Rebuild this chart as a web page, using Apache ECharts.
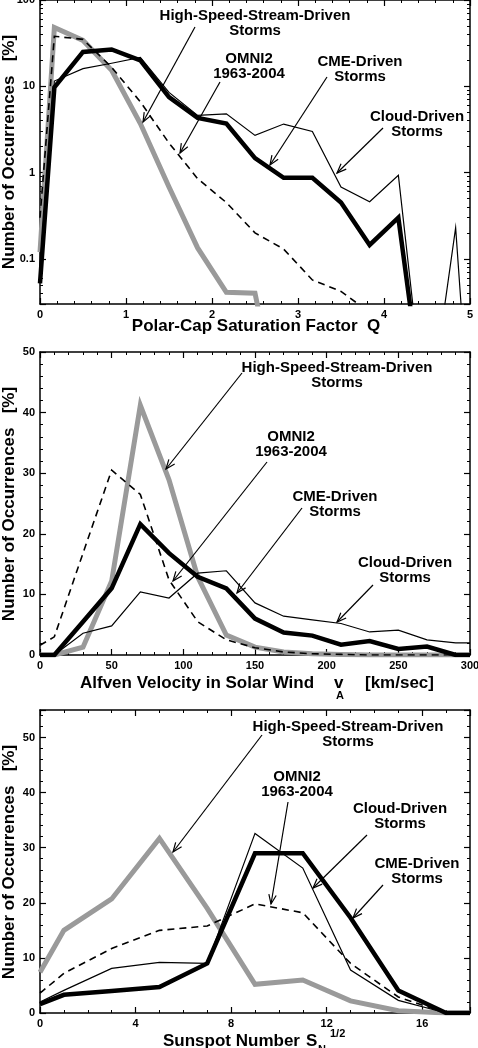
<!DOCTYPE html>
<html>
<head>
<meta charset="utf-8">
<script src="https://cdn.jsdelivr.net/npm/echarts@6/dist/echarts.min.js"></script>
<style>
  html, body { margin: 0; padding: 0; background: #fff; }
  #chart { width: 478px; height: 1048px; }
</style>
</head>
<body>
<div id="chart"></div>
<script>
// ---- panel 1 : polar-cap saturation factor Q (log scale) ----
// 0.001 = off the bottom of the log axis (zero occurrences)
const qBins  = [0, 0.167, 0.5, 0.833, 1.167, 1.5, 1.833, 2.167, 2.5, 2.833, 3.167, 3.5, 3.833, 4.167, 4.5, 4.833, 5];
const qHss   = [0.12, 48, 34, 15.3, 3.7, 0.68, 0.134, 0.041, 0.04, 0.001, null, null, null, null, null, null, null];
const qOmni  = [0.3, 38, 35, 16.6, 6.6, 2.2, 0.85, 0.45, 0.2, 0.13, 0.057, 0.042, 0.024, null, null, null, null];
const qCloud = [0.08, 11.5, 16, 18.5, 21.6, 8.5, 4.6, 4.8, 2.7, 3.65, 3.0, 0.68, 0.46, 0.93, 0.001, 0.23, 0.001];
const qCme   = [0.052, 9.7, 25, 26.7, 20, 7.5, 4.3, 3.7, 1.47, 0.87, 0.87, 0.45, 0.145, 0.3, 0.001, 0.001, 0.001];

// ---- panel 2 : Alfven velocity [km/sec] ----
const vBins  = [0, 10, 30, 50, 70, 90, 110, 130, 150, 170, 190, 210, 230, 250, 270, 290, 300];
const vHss   = [0, 0, 1.3, 12.2, 41.2, 28.9, 12.9, 3.3, 1.3, 0.5, 0.2, 0.1, 0, 0, 0, 0, 0];
const vOmni  = [1.6, 3.0, 16.8, 30.5, 26.5, 12.4, 5.5, 2.5, 1.2, 0.5, 0.2, 0.1, 0, 0, 0, 0, 0];
const vCloud = [0, 0, 3.6, 4.8, 10.4, 9.4, 13.5, 13.9, 8.6, 6.4, 5.8, 5.2, 3.8, 4.1, 2.5, 2.0, 2.0];
const vCme   = [0, 0, 5.5, 11, 21.6, 16.8, 12.9, 11, 6, 3.7, 3.2, 1.7, 2.3, 1.0, 1.4, 0, 0];

// ---- panel 3 : sunspot number sqrt ----
const sBins  = [0, 1, 3, 5, 7, 9, 11, 13, 15, 17, 18];
const sHss   = [7.4, 15, 20.7, 31.7, 19, 5.2, 6.0, 2.2, 0.4, 0, 0];
const sOmni  = [3.6, 7.2, 11.7, 15, 15.8, 19.8, 18.2, 9, 2.9, 0, 0];
const sCloud = [2.0, 4.1, 8.1, 9.2, 9.0, 32.6, 26.3, 7.8, 2.3, 0, 0];
const sCme   = [1.6, 3.3, 4.0, 4.7, 9.0, 29, 29, 17.3, 4.1, 0, 0];

const FONT = "Liberation Sans";
const yTitle = "Number of Occurrences   [%]";

const chart = echarts.init(document.getElementById("chart"), null, { renderer: "canvas" });

const pairs = (xs, ys) => xs.map((x, i) => [x, ys[i]]);

// line looks
const looks = {
  hss:   { color: "#9a9a9a", width: 5, type: "solid", z: 2 },
  omni:  { color: "#000", width: 1.6, type: [7, 5], z: 3 },
  cloud: { color: "#000", width: 1.2, type: "solid", z: 4 },
  cme:   { color: "#000", width: 4.5, type: "solid", z: 5 },
};

// fixed plot boxes (no auto shrinking for labels)
const grids = [
  { left: 40, right: 8, top: 0, height: 304, containLabel: false, outerBoundsMode: "none" },
  { left: 40, right: 8, top: 352, height: 303, containLabel: false, outerBoundsMode: "none" },
  { left: 40, right: 8, top: 710, height: 303, containLabel: false, outerBoundsMode: "none" },
];

function axis(extra, labels) {
  return Object.assign({
    axisLine: { show: true, onZero: false, lineStyle: { color: "#000", width: 1.5 } },
    axisTick: { show: true, inside: true, length: 6, lineStyle: { color: "#000", width: 1.2 } },
    minorTick: { show: true, length: 3, lineStyle: { color: "#000", width: 1 } },
    splitLine: { show: false },
    minorSplitLine: { show: false },
    axisLabel: {
      show: labels,
      color: "#000",
      fontFamily: FONT,
      fontWeight: "bold",
      fontSize: 11,
      margin: 5,
    },
  }, extra);
}

const xSpecs = [
  { type: "value", min: 0, max: 5, interval: 1, minorTick: { splitNumber: 5 } },
  { type: "value", min: 0, max: 300, interval: 50, minorTick: { splitNumber: 5 } },
  { type: "value", min: 0, max: 18, interval: 4, minorTick: { splitNumber: 4 } },
];
const ySpecs = [
  { type: "log", logBase: 10, min: 0.03, max: 100, minorTick: { splitNumber: 9 } },
  { type: "value", min: 0, max: 50, interval: 10, minorTick: { splitNumber: 5 } },
  { type: "value", min: 0, max: 55, interval: 10, minorTick: { splitNumber: 5 } },
];

const xAxis = [];
const yAxis = [];
xSpecs.forEach((s, g) => {
  const mt = { show: true, length: 3, splitNumber: s.minorTick.splitNumber, lineStyle: { color: "#000", width: 1 } };
  const bottom = axis(Object.assign({}, s, { gridIndex: g, position: "bottom", minorTick: mt }), true);
  if (g === 2) bottom.axisLabel.showMaxLabel = false;
  xAxis.push(bottom);
  xAxis.push(axis(Object.assign({}, s, { gridIndex: g, position: "top", minorTick: mt }), false));
});
ySpecs.forEach((s, g) => {
  const mt = { show: true, length: 3, splitNumber: s.minorTick.splitNumber, lineStyle: { color: "#000", width: 1 } };
  const left = axis(Object.assign({}, s, { gridIndex: g, position: "left", minorTick: mt }), true);
  if (g === 0) left.axisLabel.showMinLabel = false;
  if (g === 2) left.axisLabel.showMaxLabel = false;
  yAxis.push(left);
  yAxis.push(axis(Object.assign({}, s, { gridIndex: g, position: "right", minorTick: mt }), false));
});

const panels = [
  [qBins, { hss: qHss, omni: qOmni, cloud: qCloud, cme: qCme }],
  [vBins, { hss: vHss, omni: vOmni, cloud: vCloud, cme: vCme }],
  [sBins, { hss: sHss, omni: sOmni, cloud: sCloud, cme: sCme }],
];
const series = [];
panels.forEach(([xs, set], g) => {
  Object.keys(looks).forEach((k) => {
    const lk = looks[k];
    series.push({
      type: "line",
      xAxisIndex: g * 2,
      yAxisIndex: g * 2,
      data: pairs(xs, set[k]),
      symbol: "none",
      connectNulls: false,
      clip: true,
      z: lk.z,
      lineStyle: { color: lk.color, width: lk.width, type: lk.type, join: "miter" },
      animation: false,
    });
  });
});

// annotations (labels + arrows)
const notes = [
  { t: ["High-Speed-Stream-Driven", "Storms"], x: 255, y: 16, from: [195, 27], to: [143, 122] },
  { t: ["OMNI2", "1963-2004"], x: 249, y: 59, from: [220, 82], to: [180, 153] },
  { t: ["CME-Driven", "Storms"], x: 360, y: 62, from: [327, 77], to: [270, 165] },
  { t: ["Cloud-Driven", "Storms"], x: 417, y: 117, from: [383, 128], to: [337, 173] },

  { t: ["High-Speed-Stream-Driven", "Storms"], x: 337, y: 368, from: [242, 373], to: [166, 469] },
  { t: ["OMNI2", "1963-2004"], x: 291, y: 437, from: [267, 462], to: [173, 581] },
  { t: ["CME-Driven", "Storms"], x: 335, y: 497, from: [302, 508], to: [237, 593] },
  { t: ["Cloud-Driven", "Storms"], x: 405, y: 563, from: [373, 585], to: [337, 622] },

  { t: ["High-Speed-Stream-Driven", "Storms"], x: 348, y: 727, from: [262, 735], to: [173, 852] },
  { t: ["OMNI2", "1963-2004"], x: 297, y: 777, from: [288, 802], to: [271, 904] },
  { t: ["Cloud-Driven", "Storms"], x: 400, y: 809, from: [367, 835], to: [313, 888] },
  { t: ["CME-Driven", "Storms"], x: 417, y: 864, from: [383, 885], to: [353, 918] },
];

function txt(text, x, y, size, align, rot) {
  return {
    type: "text",
    z: 100,
    x: x, y: y,
    rotation: rot || 0,
    style: {
      text: text, x: 0, y: 0,
      fill: "#000",
      font: "bold " + size + "px '" + FONT + "'",
      textAlign: align || "center",
      textVerticalAlign: "middle",
    },
  };
}

function arrow(from, to) {
  const dx = to[0] - from[0], dy = to[1] - from[1];
  const a = Math.atan2(dy, dx);
  const L = 10, w = 0.38;
  const p1 = [to[0] - L * Math.cos(a - w), to[1] - L * Math.sin(a - w)];
  const p2 = [to[0] - L * Math.cos(a + w), to[1] - L * Math.sin(a + w)];
  return [
    { type: "line", z: 100, shape: { x1: from[0], y1: from[1], x2: to[0], y2: to[1] }, style: { stroke: "#000", lineWidth: 1.2 } },
    { type: "polyline", z: 100, shape: { points: [p1, to, p2] }, style: { stroke: "#000", lineWidth: 1.2, fill: null } },
  ];
}

const graphic = [];
notes.forEach((n) => {
  graphic.push(txt(n.t[0], n.x, n.y, 15));
  graphic.push(txt(n.t[1], n.x, n.y + 15, 15));
  arrow(n.from, n.to).forEach((e) => graphic.push(e));
});

// y axis titles, centred on each plot box
[152, 504, 862].forEach((cy) => graphic.push(txt(yTitle, 9, cy, 17, "center", Math.PI / 2)));

// x axis titles
graphic.push(txt("Polar-Cap Saturation Factor  Q", 256, 326, 17));
graphic.push(txt("Alfven Velocity in Solar Wind", 80, 683, 17, "left"));
graphic.push(txt("v", 334, 683, 17, "left"));
graphic.push(txt("A", 340, 696, 11));
graphic.push(txt("[km/sec]", 365, 683, 17, "left"));
graphic.push(txt("Sunspot Number", 163, 1041, 17, "left"));
graphic.push(txt("S", 306, 1041, 17, "left"));
graphic.push(txt("N", 322, 1050, 11));
graphic.push(txt("1/2", 330, 1034, 11, "left"));

chart.setOption({
  animation: false,
  backgroundColor: "#fff",
  grid: grids,
  xAxis: xAxis,
  yAxis: yAxis,
  series: series,
  graphic: graphic,
});
</script>
</body>
</html>
